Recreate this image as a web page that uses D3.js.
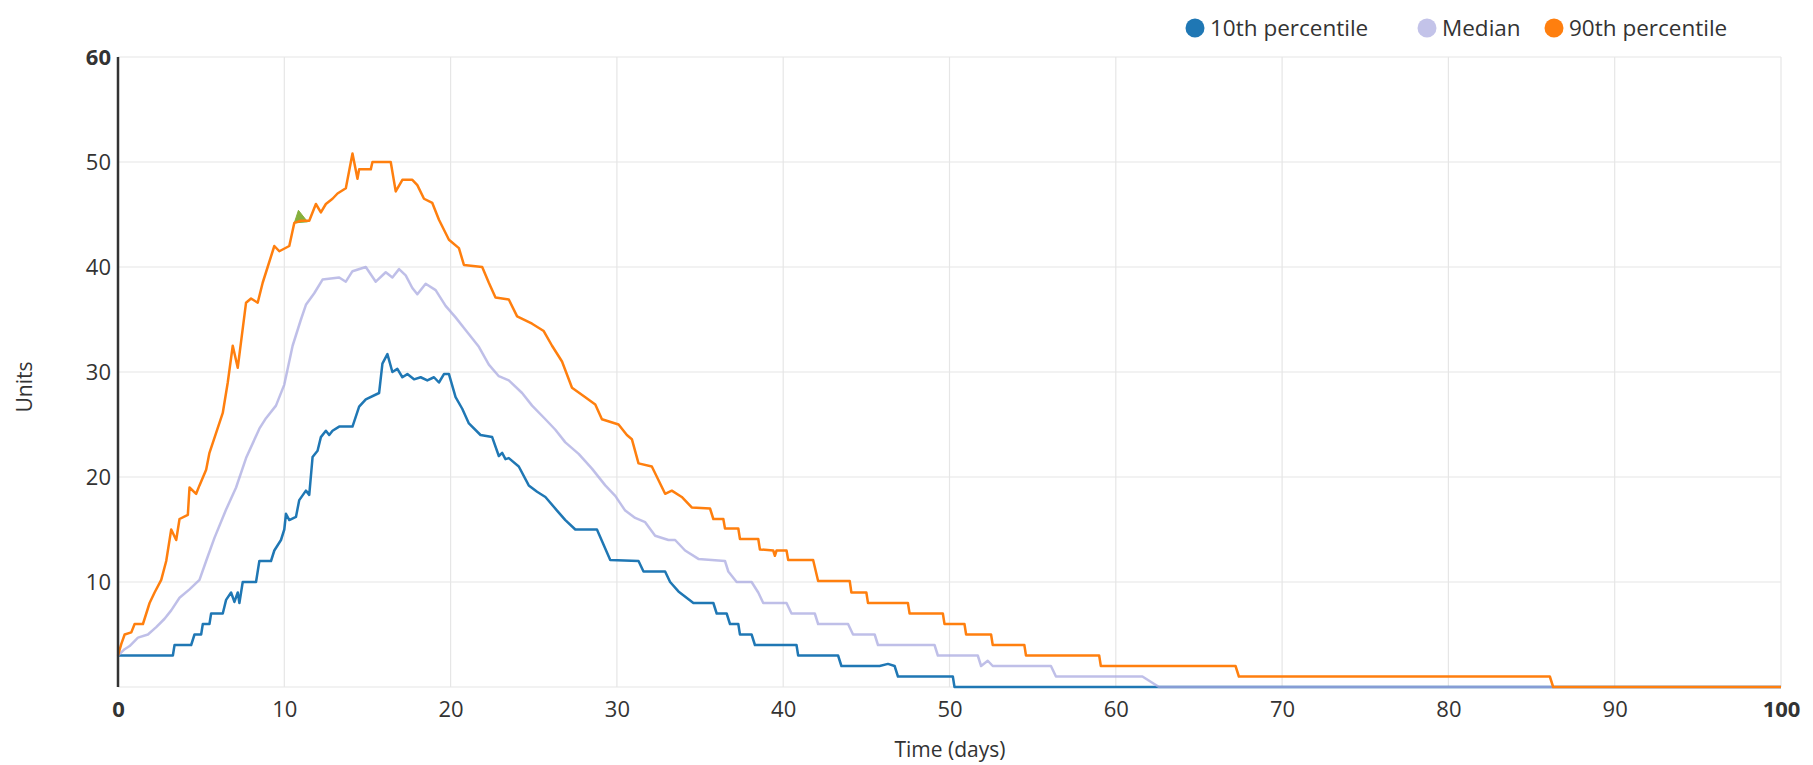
<!DOCTYPE html>
<html>
<head>
<meta charset="utf-8">
<script src="https://cdn.jsdelivr.net/npm/d3@7"></script>
<style>
  body { margin: 0; background: #ffffff; }
  svg text { font-family: "Open Sans", "Noto Sans", sans-serif; fill: #333333; }
</style>
</head>
<body>
<svg id="chart" width="1813" height="765"></svg>
<script>
// ---------------- DATA ----------------
const seriesNames = ["10th percentile", "Median", "90th percentile"];
const xTickValues = [0, 10, 20, 30, 40, 50, 60, 70, 80, 90, 100];
const yTickValues = [10, 20, 30, 40, 50, 60];
const xTitle = "Time (days)";
const yTitle = "Units";

// [time (days), units]
const p10 = [[0,3],[3.3,3],[3.4,4],[4.4,4],[4.6,5],[5.0,5],[5.1,6],[5.5,6],[5.6,7],[6.3,7],[6.5,8.3],[6.8,9],[7.0,8.1],[7.2,9],[7.3,8],[7.5,10],[8.3,10],[8.5,12],[9.2,12],[9.4,13],[9.8,14],[10.0,15],[10.1,16.5],[10.3,15.9],[10.7,16.2],[10.9,17.8],[11.3,18.7],[11.5,18.3],[11.7,21.9],[12.0,22.5],[12.2,23.8],[12.5,24.4],[12.7,24],[12.9,24.4],[13.3,24.8],[14.1,24.8],[14.5,26.7],[14.9,27.4],[15.7,28],[15.9,30.8],[16.2,31.7],[16.5,30],[16.8,30.3],[17.1,29.5],[17.4,29.8],[17.8,29.3],[18.2,29.5],[18.6,29.2],[19.0,29.5],[19.3,29],[19.6,29.8],[19.9,29.8],[20.3,27.6],[20.7,26.5],[21.1,25.1],[21.8,24],[22.5,23.8],[22.9,22],[23.1,22.3],[23.3,21.7],[23.5,21.8],[24.1,21],[24.7,19.2],[25.2,18.6],[25.7,18.1],[26.4,16.8],[26.9,15.9],[27.5,15],[28.8,15],[29.6,12.1],[31.3,12],[31.6,11],[32.9,11],[33.2,10],[33.7,9.1],[34.6,8],[35.8,8],[36.0,7],[36.6,7],[36.8,6],[37.3,6],[37.4,5],[38.1,5],[38.3,4],[40.8,4],[40.9,3],[43.3,3],[43.5,2],[45.8,2],[46.3,2.2],[46.7,2],[46.9,1],[50.2,1],[50.3,0],[100,0]];

const p50 = [[0,3],[0.4,3.6],[0.7,3.9],[1.2,4.7],[1.8,5],[2.3,5.7],[2.8,6.5],[3.2,7.3],[3.7,8.5],[4.3,9.3],[4.9,10.2],[5.3,12],[5.8,14.2],[6.5,16.9],[7.1,19],[7.7,21.8],[8.5,24.6],[8.9,25.6],[9.5,26.8],[10.0,28.8],[10.5,32.5],[11.0,35],[11.3,36.4],[11.8,37.5],[12.3,38.8],[13.3,39],[13.7,38.6],[14.1,39.6],[14.9,40],[15.5,38.6],[16.1,39.5],[16.5,39],[16.9,39.8],[17.3,39.2],[17.7,38],[18.0,37.4],[18.5,38.4],[19.1,37.8],[19.7,36.3],[20.3,35.2],[20.9,34],[21.7,32.4],[22.3,30.7],[22.9,29.6],[23.5,29.2],[24.3,28],[24.9,26.8],[25.7,25.5],[26.3,24.5],[26.9,23.3],[27.7,22.2],[28.5,20.8],[29.3,19.2],[29.9,18.2],[30.5,16.8],[31.1,16.1],[31.7,15.7],[32.3,14.4],[33.1,14],[33.5,14],[34.1,13],[34.9,12.2],[36.5,12],[36.7,11],[37.2,10],[38.1,10],[38.5,9],[38.8,8],[40.2,8],[40.5,7],[41.9,7],[42.1,6],[43.9,6],[44.2,5],[45.5,5],[45.7,4],[49.1,4],[49.3,3],[51.7,3],[51.9,2],[52.3,2.5],[52.6,2],[56.1,2],[56.4,1],[61.6,1],[62.6,0],[100,0]];

const p90 = [[0,3],[0.2,4.1],[0.4,5],[0.8,5.2],[1.0,6],[1.5,6],[1.9,8],[2.2,9],[2.6,10.2],[2.9,12],[3.2,15],[3.5,14],[3.7,16],[4.2,16.4],[4.3,19],[4.7,18.4],[4.9,19.2],[5.3,20.7],[5.5,22.3],[5.9,24.2],[6.3,26.1],[6.6,29],[6.9,32.5],[7.2,30.4],[7.7,36.6],[8.0,37],[8.4,36.6],[8.7,38.5],[9.0,40],[9.4,42],[9.7,41.5],[10.3,42],[10.6,44.2],[11.0,44.4],[11.5,44.4],[11.9,46],[12.2,45.2],[12.5,46],[12.9,46.5],[13.2,47],[13.7,47.5],[14.1,50.8],[14.4,48.4],[14.5,49.3],[15.2,49.3],[15.3,50],[16.4,50],[16.7,47.2],[17.1,48.3],[17.7,48.3],[18.0,47.8],[18.4,46.5],[18.9,46.1],[19.3,44.5],[19.9,42.6],[20.5,41.8],[20.8,40.2],[21.9,40],[22.3,38.5],[22.7,37.1],[23.5,36.9],[24.0,35.3],[24.9,34.6],[25.6,33.9],[26.1,32.5],[26.7,31],[27.3,28.5],[28.1,27.6],[28.7,26.9],[29.1,25.5],[30.1,25],[30.6,24],[30.9,23.6],[31.3,21.3],[32.1,21],[32.9,18.4],[33.3,18.7],[33.9,18.1],[34.5,17.1],[35.6,17],[35.8,16],[36.4,16],[36.5,15.1],[37.3,15.1],[37.4,14.1],[38.5,14.1],[38.6,13.1],[39.4,13],[39.5,12.5],[39.6,13],[40.2,13],[40.3,12.1],[41.8,12.1],[42.1,10.1],[44.0,10.1],[44.1,9],[45.0,9],[45.1,8],[47.5,8],[47.6,7],[49.6,7],[49.7,6],[50.9,6],[51.0,5],[52.5,5],[52.6,4],[54.5,4],[54.6,3],[59.0,3],[59.1,2],[67.2,2],[67.4,1],[86.1,1],[86.3,0],[100,0]];

// small green artefact visible on the 90th percentile line
const glitch = [[10.6,44.2],[10.85,45.4],[11.4,44.3]];

// ---------------- LAYOUT ----------------
const colors = ["#1f77b4", "#a9a9e0", "#ff7f0e"];
const opac = [1, 0.75, 1];
const svg = d3.select("#chart");
const x = d3.scaleLinear().domain([0, 100]).range([118, 1781]);
const y = d3.scaleLinear().domain([0, 60]).range([687, 57]);

// grid
const grid = svg.append("g");
grid.selectAll("line.v").data(xTickValues.filter(d => d > 0)).enter().append("line")
  .attr("x1", d => x(d)).attr("x2", d => x(d)).attr("y1", y(60)).attr("y2", y(0))
  .attr("stroke", "#e6e6e6").attr("stroke-width", 1.2);
grid.selectAll("line.h").data([0].concat(yTickValues)).enter().append("line")
  .attr("x1", x(0)).attr("x2", x(100)).attr("y1", d => y(d)).attr("y2", d => y(d))
  .attr("stroke", "#e6e6e6").attr("stroke-width", 1.2);

// axes (labels via d3 axes)
const xAxis = d3.axisBottom(x).tickValues(xTickValues).tickSize(0).tickPadding(14).tickFormat(d3.format("d"));
const gx = svg.append("g").attr("transform", `translate(0,${y(0)})`).call(xAxis);
gx.select(".domain").remove();
gx.selectAll("text").attr("font-size", 22).attr("font-family", "Open Sans")
  .attr("font-weight", d => (d === 0 || d === 100) ? 700 : 400).style("fill", "#333");

const yAxis = d3.axisLeft(y).tickValues(yTickValues).tickSize(0).tickPadding(7).tickFormat(d3.format("d"));
const gy = svg.append("g").attr("transform", `translate(${x(0)},0)`).call(yAxis);
gy.select(".domain").remove();
gy.selectAll("text").attr("font-size", 22).attr("font-family", "Open Sans")
  .attr("font-weight", d => d === 60 ? 700 : 400).style("fill", "#333");

// lines
const line = d3.line().x(d => x(d[0])).y(d => y(d[1])).curve(d3.curveLinear);
[p10, p50, p90].forEach((s, i) => {
  svg.append("path").datum(s).attr("d", line)
    .attr("fill", "none").attr("stroke", colors[i]).attr("stroke-opacity", opac[i])
    .attr("stroke-width", 2.5).attr("stroke-linejoin", "round");
  if (i === 1) {
    svg.append("path").datum(glitch).attr("d", d => line(d) + "Z")
      .attr("fill", "#86b03c").attr("stroke", "#86b03c").attr("stroke-width", 1);
  }
});

// left axis line
svg.append("line").attr("x1", x(0)).attr("x2", x(0)).attr("y1", y(60)).attr("y2", y(0))
  .attr("stroke", "#333").attr("stroke-width", 2.5);

// axis titles
svg.append("text").attr("x", 950).attr("y", 757).attr("text-anchor", "middle")
  .attr("font-size", 21).text(xTitle);
svg.append("text").attr("transform", "translate(32,387) rotate(-90)").attr("text-anchor", "middle")
  .attr("font-size", 21).text(yTitle);

// legend
const legendX = [1195, 1427, 1554];
const lg = svg.append("g");
seriesNames.forEach((n, i) => {
  lg.append("circle").attr("cx", legendX[i]).attr("cy", 28).attr("r", 9.5)
    .attr("fill", colors[i]).attr("fill-opacity", i === 1 ? 0.7 : 1);
  lg.append("text").attr("x", legendX[i] + 15).attr("y", 28).attr("dy", "0.35em")
    .attr("font-size", 22.5).text(n);
});
</script>
</body>
</html>
